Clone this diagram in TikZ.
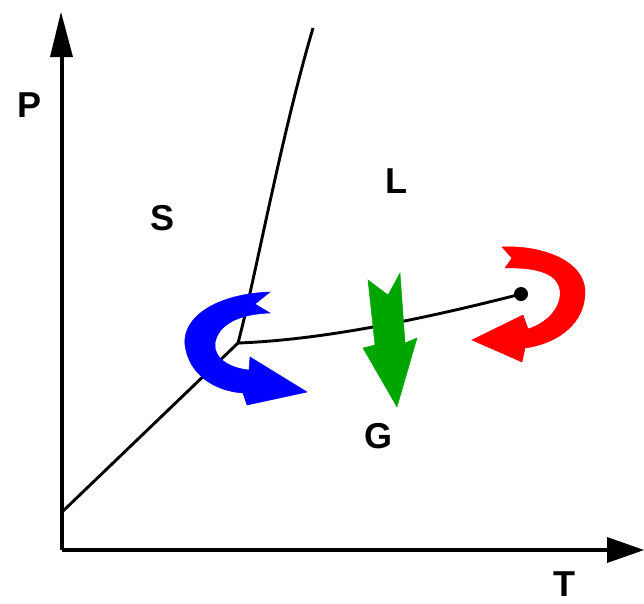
\documentclass[tikz,border=0pt]{standalone}
\usepackage{fontspec}
\setmainfont{Liberation Sans}
\begin{document}
\begin{tikzpicture}[x=1pt,y=-1pt,
  axis/.style={line width=3.8pt},
  curve/.style={line width=2.9pt},
  lbl/.style={font=\bfseries\fontsize{36}{36}\selectfont, inner sep=0pt},
  head/.style={fill=black}]
\useasboundingbox (0,0) rectangle (644,603);
% axes
\coordinate (O) at (62,550);
\coordinate (Ptop) at (62,57);
\coordinate (Tend) at (607,550);
\draw[axis] (O) -- (Ptop);
\draw[axis] (O) -- (Tend);
\fill[head] (61,12) -- (50,57) -- (73,57) -- cycle;
\fill[head] (644,550) -- (607,537) -- (607,563) -- cycle;
% labels
\node[lbl] (P) at (30,105) {P};
\node[lbl] (T) at (564,584) {T};
\node[lbl] (S) at (163,218) {S};
\node[lbl] (L) at (396,181) {L};
\node[lbl] (G) at (378,436) {G};
% phase lines
\coordinate (tp) at (238,343);
\coordinate (top) at (313,28);
\coordinate (sub) at (62,512);
\node[circle, fill=black, inner sep=0pt, minimum size=14pt] (cp) at (521,294) {};
\draw[curve] (tp) .. controls (255,280) and (280,140) .. (top);
\draw[curve] (sub) -- (tp);
\draw[curve] (tp) .. controls (320,340) and (420,320) .. (cp.center);
% blue arrow
\fill[blue, draw=blue, line width=0.5pt]
  (270,292) .. controls (215,294) and (182,318) .. (185,345)
  .. controls (189,375) and (215,391) .. (243,393)
  -- (247,405) -- (307,392) -- (250,357) -- (249,370)
  .. controls (228,368) and (213,357) .. (215,343)
  .. controls (218,325) and (238,314) .. (270,313)
  -- (255,304) -- cycle;
% green arrow
\fill[green!65!black, draw=green!65!black, line width=0.5pt]
  (368,280) -- (388,295) -- (400,273) -- (405,343) -- (417,338)
  -- (397,407) -- (363,348) -- (375,345) -- cycle;
% red arrow
\fill[red, draw=red, line width=0.5pt]
  (502,247) .. controls (540,245) and (585,260) .. (585,292)
  .. controls (585,322) and (560,343) .. (525,348)
  -- (522,362) -- (472,340) -- (523,315) -- (528,329)
  .. controls (550,322) and (562,305) .. (560,290)
  .. controls (558,275) and (540,267) .. (505,268)
  -- (512,258) -- cycle;
\end{tikzpicture}
\end{document}
